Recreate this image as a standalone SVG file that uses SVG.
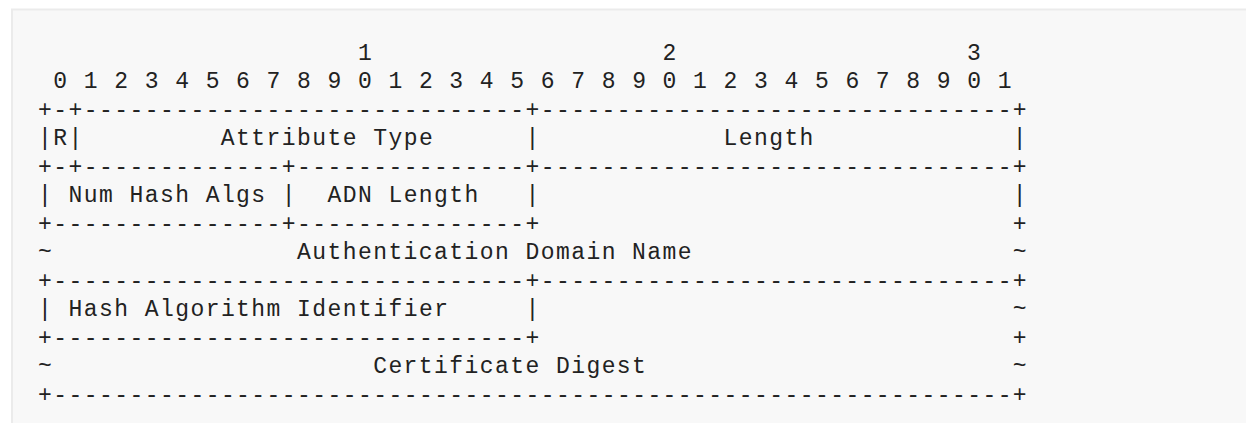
<svg xmlns="http://www.w3.org/2000/svg" width="1246" height="423" viewBox="0 0 1246 423">
<style>
.t{font-family:"Liberation Mono","DejaVu Sans Mono",monospace;font-size:23px;letter-spacing:1.43px;fill:#222;white-space:pre}
</style>
<rect x="0" y="0" width="1246" height="423" fill="#ffffff"/>
<rect id="panel" x="12" y="9.5" width="1250" height="420" fill="#f8f8f8" stroke="#ebebeb" stroke-width="2"/>
<g id="diagram" xml:space="preserve" transform="translate(-0.3,0)">
<text class="t" y="59.7"><tspan x="358.23">1</tspan><tspan x="662.83">2</tspan><tspan x="967.43">3</tspan></text>
<text class="t" y="88.2"><tspan x="53.63">0 1 2 3 4 5 6 7 8 9 0 1 2 3 4 5 6 7 8 9 0 1 2 3 4 5 6 7 8 9 0 1</tspan></text>
<text class="t" y="116.7"><tspan x="38.4">+-+-----------------------------</tspan><tspan x="525.76">+-------------------------------</tspan><tspan x="1013.12">+</tspan></text>
<text class="t" y="145.2"><tspan x="38.4">|R|</tspan><tspan x="221.16">Attribute Type</tspan><tspan x="525.76">|</tspan><tspan x="723.75">Length</tspan><tspan x="1013.12">|</tspan></text>
<text class="t" y="173.7"><tspan x="38.4">+-+-------------</tspan><tspan x="282.08">+---------------</tspan><tspan x="525.76">+-------------------------------</tspan><tspan x="1013.12">+</tspan></text>
<text class="t" y="202.2"><tspan x="38.4">| Num Hash Algs</tspan><tspan x="282.08">|</tspan><tspan x="327.77">ADN Length</tspan><tspan x="525.76">|</tspan><tspan x="1013.12">|</tspan></text>
<text class="t" y="230.7"><tspan x="38.4">+---------------</tspan><tspan x="282.08">+---------------</tspan><tspan x="525.76">+</tspan><tspan x="1013.12">+</tspan></text>
<text class="t" y="259.2"><tspan x="38.4">~</tspan><tspan x="297.31">Authentication Domain Name</tspan><tspan x="1013.12">~</tspan></text>
<text class="t" y="287.7"><tspan x="38.4">+-------------------------------</tspan><tspan x="525.76">+-------------------------------</tspan><tspan x="1013.12">+</tspan></text>
<text class="t" y="316.2"><tspan x="38.4">| Hash Algorithm Identifier</tspan><tspan x="525.76">|</tspan><tspan x="1013.12">~</tspan></text>
<text class="t" y="344.7"><tspan x="38.4">+-------------------------------</tspan><tspan x="525.76">+</tspan><tspan x="1013.12">+</tspan></text>
<text class="t" y="373.2"><tspan x="38.4">~</tspan><tspan x="373.46">Certificate Digest</tspan><tspan x="1013.12">~</tspan></text>
<text class="t" y="401.7"><tspan x="38.4">+---------------------------------------------------------------</tspan><tspan x="1013.12">+</tspan></text>
</g>
</svg>
